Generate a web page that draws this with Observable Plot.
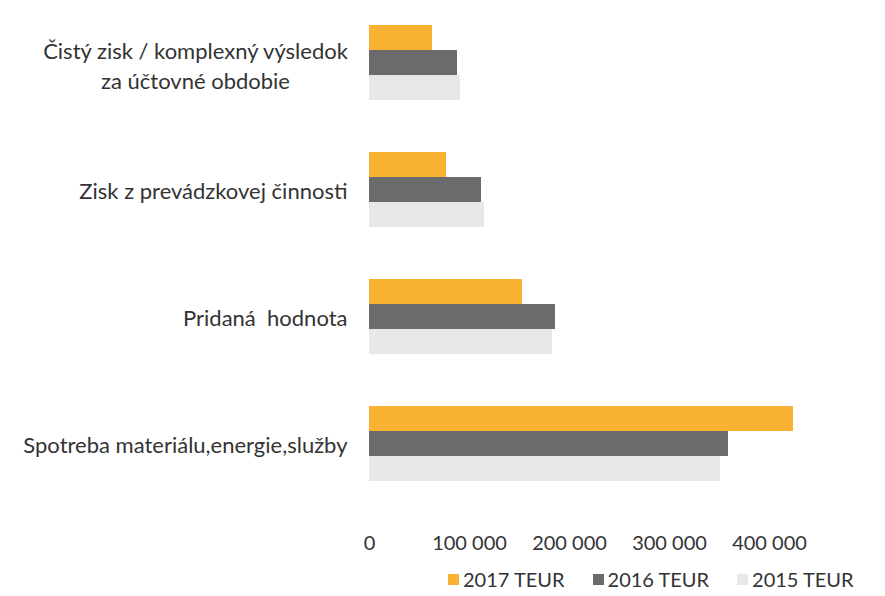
<!DOCTYPE html>
<html>
<head>
<meta charset="utf-8">
<script src="https://cdn.jsdelivr.net/npm/d3@7"></script>
<script src="https://cdn.jsdelivr.net/npm/@observablehq/plot@0.6"></script>
<style>
  html, body { margin: 0; padding: 0; background: #fff; }
  #chart { width: 885px; font-family: Lato, "Open Sans", sans-serif; }
  .legend { display: flex; align-items: center; padding-left: 448px; height: 46px; font-size: 20px; color: #333; }
  .legend .item { display: flex; align-items: center; margin-right: 28px; }
  .legend .sw { width: 11px; height: 11px; margin-right: 4px; }
</style>
</head>
<body>
<div id="chart"></div>
<script>
const categories = [
  "Čistý zisk / komplexný výsledok\nza účtovné obdobie",
  "Zisk z prevádzkovej činnosti",
  "Pridaná  hodnota",
  "Spotreba materiálu,energie,služby"
];
const series = ["2017 TEUR", "2016 TEUR", "2015 TEUR"];
const values2017 = [63000, 77000, 153000, 424000];
const values2016 = [88000, 112000, 186000, 359000];
const values2015 = [91000, 115000, 183000, 351000];
const colors = ["#f9b233", "#6b6b6b", "#e8e8e8"];
const xTicks = [0, 100000, 200000, 300000, 400000];

const seriesValues = [values2017, values2016, values2015];
const table = [];
categories.forEach((c, i) => series.forEach((s, j) => table.push({category: c, series: s, value: seriesValues[j][i]})));

const fmt = d => d3.format(",")(d).replace(/,/g, " ");
const multi = categories.filter(c => c.includes("\n"));
const single = categories.filter(c => !c.includes("\n"));

const plot = Plot.plot({
  width: 885,
  height: 556,
  marginLeft: 369,
  marginRight: 66,
  marginTop: 10,
  marginBottom: 60,
  style: {fontFamily: "Lato, 'Open Sans', sans-serif", color: "#333", background: "#fff"},
  x: {domain: [0, 450000], ticks: xTicks, tickFormat: fmt, tickSize: 0, tickPadding: 54, label: null, fontSize: 20},
  y: {domain: series, padding: 0, axis: null},
  fy: {domain: categories, paddingInner: 0.4, paddingOuter: 0.1, axis: null, label: null},
  color: {domain: series, range: colors},
  marks: [
    Plot.barX(table, {x: "value", y: "series", fy: "category", fill: "series"}),
    Plot.text(single, {fy: d => d, text: d => d, frameAnchor: "left", textAnchor: "end", dx: -22, dy: 2, fontSize: 22, fill: "#333"}),
    Plot.text(multi, {fy: d => d, text: d => d, frameAnchor: "left", textAnchor: "middle", dx: -174, dy: 2, fontSize: 22, fill: "#333", lineHeight: 1.36})
  ]
});
plot.querySelectorAll('g[aria-label="x-axis tick label"]').forEach(e => e.setAttribute("font-size", 20));
document.getElementById("chart").appendChild(plot);

const legend = document.createElement("div");
legend.className = "legend";
series.forEach((s, j) => {
  const item = document.createElement("div");
  item.className = "item";
  const sw = document.createElement("div");
  sw.className = "sw";
  sw.style.background = colors[j];
  const t = document.createElement("span");
  t.textContent = s;
  item.appendChild(sw); item.appendChild(t);
  legend.appendChild(item);
});
document.getElementById("chart").appendChild(legend);
</script>
</body>
</html>
